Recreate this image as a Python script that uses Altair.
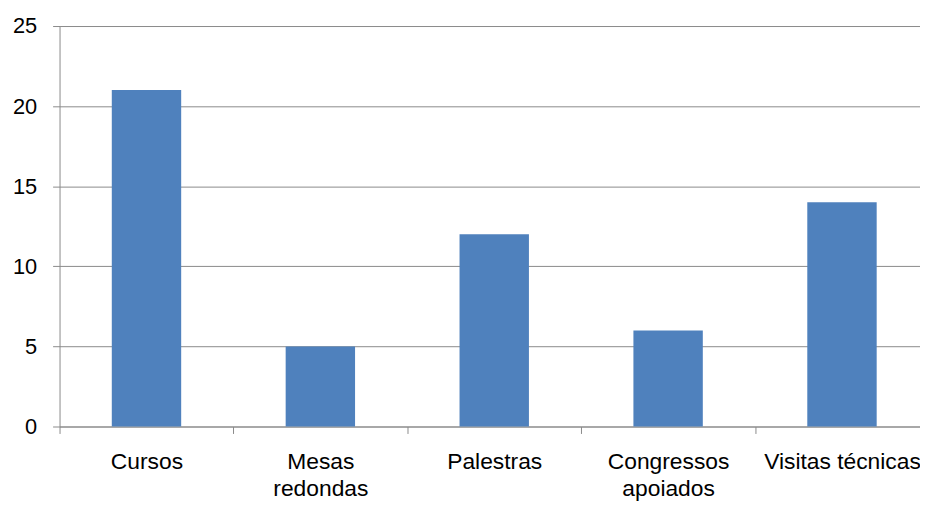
import altair as alt
import pandas as pd

categories = ["Cursos", "Mesas redondas", "Palestras", "Congressos apoiados", "Visitas técnicas"]
values = [21, 5, 12, 6, 14]
y_ticks = [0, 5, 10, 15, 20, 25]

df = pd.DataFrame({"cat": categories, "val": values})

FONT = "Liberation Sans"
GRAY = "#8a8a8a"

label_expr = (
    "datum.value == 'Mesas redondas' ? ['Mesas', 'redondas'] : "
    "datum.value == 'Congressos apoiados' ? ['Congressos', 'apoiados'] : datum.label"
)

chart = alt.Chart(df).mark_bar(width=70, color="#4F81BD").encode(
    x=alt.X(
        "cat:N",
        sort=categories,
        scale=alt.Scale(paddingInner=0, paddingOuter=0),
        axis=alt.Axis(
            title=None,
            labelAngle=0,
            tickBand="extent",
            tickSize=7,
            tickColor=GRAY,
            domainColor=GRAY,
            labelFont=FONT,
            labelFontSize=23,
            labelColor="#000000",
            labelPadding=17,
            labelBaseline="top",
            labelLineHeight=28,
            labelExpr=label_expr,
            grid=False,
        ),
    ),
    y=alt.Y(
        "val:Q",
        scale=alt.Scale(domain=[0, 25], nice=False),
        axis=alt.Axis(
            title=None,
            values=y_ticks,
            grid=True,
            gridColor=GRAY,
            tickColor=GRAY,
            domainColor=GRAY,
            tickSize=7,
            labelFont=FONT,
            labelFontSize=22,
            labelColor="#000000",
            labelPadding=16,
        ),
    ),
).properties(
    width=877,
    height=404,
    autosize=alt.AutoSizeParams(type="none"),
    padding={"left": 52, "top": 16, "right": -9, "bottom": 78},
).configure_view(stroke=None)

chart.save("out.html", embed_options={"renderer": "svg", "actions": False})
